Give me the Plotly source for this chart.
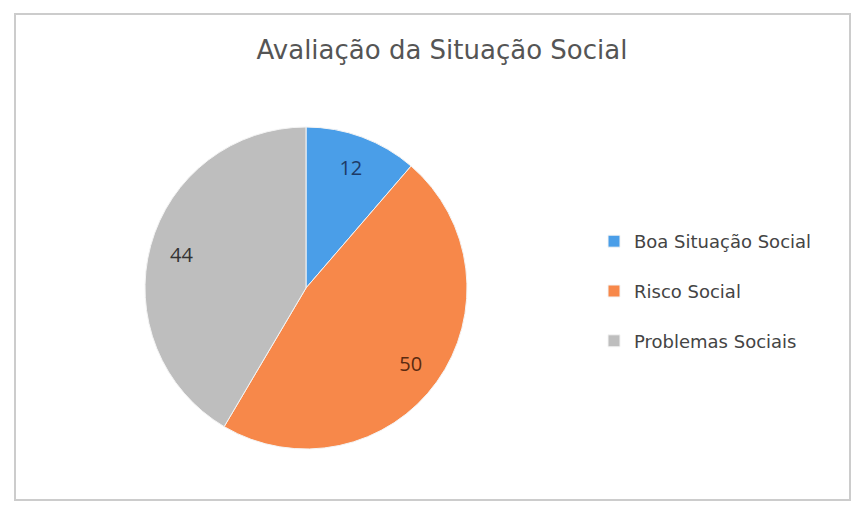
import plotly.graph_objects as go

categories = ["Boa Situação Social", "Risco Social", "Problemas Sociais"]
values = [12, 50, 44]
colors = ["#4A9EE8", "#F7884A", "#BEBEBE"]
label_colors = ["#1d3a66", "#5a2a10", "#333333"]
title_text = "Avaliação da Situação Social"

W, H = 854, 505
cx, cy, R = 306, 288, 161
domain = dict(x=[(cx - R) / W, (cx + R) / W], y=[1 - (cy + R) / H, 1 - (cy - R) / H])

fig = go.Figure()
# filled pie
fig.add_trace(go.Pie(
    labels=[c + "<br> " for c in categories],
    values=values,
    sort=False,
    direction="clockwise",
    rotation=0,
    marker=dict(colors=colors, line=dict(color="#f4f4f4", width=1)),
    textinfo="none",
    domain=domain,
    hoverinfo="label+value",
))
# transparent ring carrying the value labels near the rim
fig.add_trace(go.Pie(
    labels=[c + "<br> " for c in categories],
    values=values,
    sort=False,
    direction="clockwise",
    rotation=0,
    hole=0.6,
    marker=dict(colors=["rgba(0,0,0,0)"] * 3, line=dict(width=0)),
    textinfo="value",
    textposition="inside",
    insidetextorientation="horizontal",
    textfont=dict(family="Open Sans, sans-serif", size=20, color=label_colors),
    domain=domain,
    showlegend=False,
    hoverinfo="skip",
))

fig.update_layout(
    width=W, height=H,
    margin=dict(l=0, r=0, t=0, b=0),
    paper_bgcolor="white",
    plot_bgcolor="white",
    title=dict(text=title_text, x=442 / W, xanchor="center", y=1 - 50 / H, yanchor="middle",
               font=dict(family="DejaVu Sans, sans-serif", size=26, color="#555555")),
    legend=dict(x=594 / W, xanchor="left", y=1 - 223 / H, yanchor="top",
                valign="top",
                font=dict(family="DejaVu Sans, sans-serif", size=18, color="#444444"),
                bgcolor="rgba(0,0,0,0)"),
    shapes=[dict(type="rect", xref="paper", yref="paper", x0=15 / W, x1=850 / W, y0=1 - 500 / H, y1=1 - 14 / H,
                 line=dict(color="#cccccc", width=2), fillcolor="rgba(0,0,0,0)", layer="below")],
)

fig.write_html("out.html", config={"displayModeBar": False},
               post_script="document.body.style.margin='0';document.body.style.overflow='hidden';")
